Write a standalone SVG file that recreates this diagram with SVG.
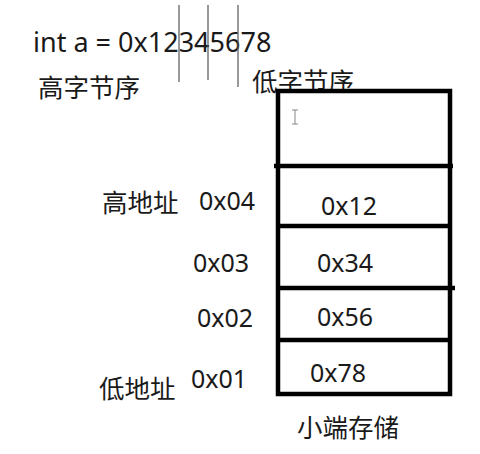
<svg xmlns="http://www.w3.org/2000/svg" width="480" height="454" viewBox="0 0 480 454">
<style>
.lat{font-family:"Noto Sans","Liberation Sans",sans-serif;fill:#1a1a1a}
.cjk{font-family:"Noto Sans CJK SC","Noto Sans",sans-serif;fill:#1a1a1a;font-size:25.5px}
.hex{font-size:25px}
.box{fill:#fff;stroke:#000;stroke-width:4.5;stroke-linecap:square}
.div{stroke:#000;stroke-width:4.5}
.tick{stroke:#555;stroke-width:1.2}
</style>
<rect width="480" height="454" fill="#fff"/>
<g id="title">
<text class="lat" x="33" y="52" font-size="27">int a = 0x12345678</text>
</g>
<g id="byte-ticks">
<line class="tick" x1="179" y1="5" x2="179" y2="82"/>
<line class="tick" x1="208" y1="5" x2="208" y2="80"/>
<line class="tick" x1="238" y1="5" x2="238" y2="87"/>
</g>
<g id="high-byte-label"><text class="cjk" x="38" y="97">高字节序</text></g>
<g id="low-byte-label"><text class="cjk" x="252" y="91">低字节序</text></g>
<g id="memory">
<rect class="box" x="278" y="91" width="172" height="303"/>
<line class="div" x1="274" y1="166" x2="453" y2="166"/>
<line class="div" x1="276" y1="226" x2="451" y2="226"/>
<line class="div" x1="276" y1="288" x2="455" y2="288"/>
<line class="div" x1="276" y1="340" x2="451" y2="340"/>
</g>
<g id="cursor">
<path d="M292 110h6M295 110v14M292 124h6" stroke="#888" stroke-width="1" fill="none"/>
</g>
<g id="cell-04"><text class="lat hex" x="321" y="215">0x12</text></g>
<g id="cell-03"><text class="lat hex" x="317" y="272">0x34</text></g>
<g id="cell-02"><text class="lat hex" x="317" y="326">0x56</text></g>
<g id="cell-01"><text class="lat hex" x="310" y="382">0x78</text></g>
<g id="addr-labels">
<text class="cjk" x="102" y="212">高地址</text>
<text class="lat hex" x="199" y="210">0x04</text>
<text class="lat hex" x="193" y="272">0x03</text>
<text class="lat hex" x="197" y="327">0x02</text>
<text class="lat hex" x="191" y="388">0x01</text>
<text class="cjk" x="99" y="398">低地址</text>
</g>
<g id="caption"><text class="cjk" x="297" y="437">小端存储</text></g>
</svg>
